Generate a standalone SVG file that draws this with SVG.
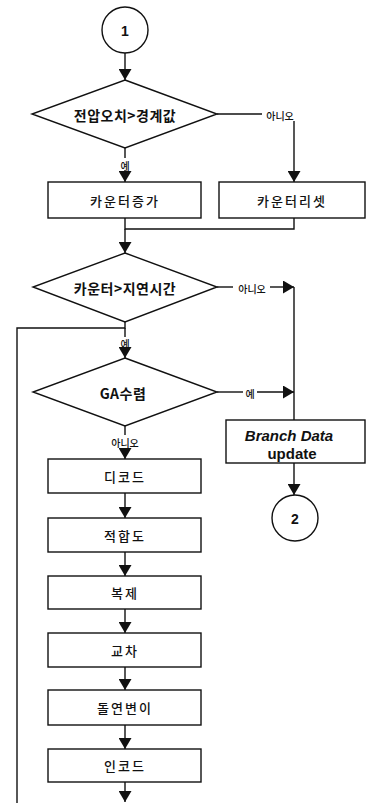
<svg xmlns="http://www.w3.org/2000/svg" width="367" height="803" viewBox="0 0 367 803">
<style>
.shape{fill:#fff;stroke:#111;stroke-width:1.4}
.ln{fill:none;stroke:#111;stroke-width:1.4}
.kr{font-family:"Noto Sans CJK KR","Liberation Sans",sans-serif;fill:#111;text-anchor:middle;dominant-baseline:central}
.box{font-size:13px;letter-spacing:2px;font-weight:500}
.dia{font-size:14px;font-weight:bold;letter-spacing:0.5px}
.lbl{font-size:10px;font-weight:500}
.en{font-family:"Liberation Sans",Arial,sans-serif;font-weight:bold;fill:#111;text-anchor:middle;dominant-baseline:central}
</style>
<defs>
<marker id="ah" markerUnits="userSpaceOnUse" markerWidth="11" markerHeight="13" viewBox="0 0 11 13" refX="11" refY="6.5" orient="auto">
<path d="M0,0 L11,6.5 L0,13 z" fill="#111"/>
</marker>
</defs>
<rect width="367" height="803" fill="#fff"/>
<g id="connectors">
<line class="ln" x1="125" y1="53" x2="125" y2="80" marker-end="url(#ah)"/>
<line class="ln" x1="217" y1="114" x2="262" y2="114"/>
<line class="ln" x1="294" y1="121" x2="294" y2="182" marker-end="url(#ah)"/>
<line class="ln" x1="125" y1="148" x2="125" y2="158"/>
<line class="ln" x1="125" y1="170" x2="125" y2="182" marker-end="url(#ah)"/>
<polyline class="ln" points="125,218 125,229 294,229 294,218"/>
<line class="ln" x1="125" y1="229" x2="125" y2="253" marker-end="url(#ah)"/>
<line class="ln" x1="217" y1="287" x2="233" y2="287"/>
<line class="ln" x1="270" y1="287" x2="294" y2="287" marker-end="url(#ah)"/>
<line class="ln" x1="294" y1="287" x2="294" y2="420"/>
<polyline class="ln" points="125,322 125,328 17,328 17,803"/>
<line class="ln" x1="125" y1="328" x2="125" y2="337"/>
<line class="ln" x1="125" y1="348" x2="125" y2="358" marker-end="url(#ah)"/>
<line class="ln" x1="217" y1="392" x2="243" y2="392"/>
<line class="ln" x1="257" y1="392" x2="294" y2="392" marker-end="url(#ah)"/>
<line class="ln" x1="125" y1="426" x2="125" y2="435"/>
<line class="ln" x1="125" y1="448" x2="125" y2="459" marker-end="url(#ah)"/>
<line class="ln" x1="294" y1="463" x2="294" y2="495" marker-end="url(#ah)"/>
<line class="ln" x1="125" y1="493" x2="125" y2="518" marker-end="url(#ah)"/>
<line class="ln" x1="125" y1="552" x2="125" y2="576" marker-end="url(#ah)"/>
<line class="ln" x1="125" y1="609" x2="125" y2="633" marker-end="url(#ah)"/>
<line class="ln" x1="125" y1="667" x2="125" y2="690" marker-end="url(#ah)"/>
<line class="ln" x1="125" y1="725" x2="125" y2="749" marker-end="url(#ah)"/>
<line class="ln" x1="125" y1="782" x2="125" y2="802" marker-end="url(#ah)"/>
<text class="kr lbl" x="280" y="115">아니오</text>
<text class="kr lbl" x="125" y="165">예</text>
<text class="kr lbl" x="252" y="288">아니오</text>
<text class="kr lbl" x="125" y="343">예</text>
<text class="kr lbl" x="250" y="393">예</text>
<text class="kr lbl" x="125" y="442">아니오</text>
</g>
<g id="start1">
<circle class="shape" cx="125" cy="30" r="23"/>
<text class="en" x="125" y="31" font-size="14">1</text>
</g>
<g id="dec1">
<polygon class="shape" points="125,80 217,114 125,148 32,114"/>
<text class="kr dia" x="125" y="115">전압오치&gt;경계값</text>
</g>
<g id="inc">
<rect class="shape" x="48" y="182" width="153" height="36"/>
<text class="kr box" x="125" y="200">카운터증가</text>
</g>
<g id="reset">
<rect class="shape" x="219" y="182" width="146" height="36"/>
<text class="kr box" x="292" y="200">카운터리셋</text>
</g>
<g id="dec2">
<polygon class="shape" points="125,253 217,287 125,322 33,287"/>
<text class="kr dia" x="125" y="288">카운터&gt;지연시간</text>
</g>
<g id="dec3">
<polygon class="shape" points="125,358 217,392 125,426 33,392"/>
<text class="kr dia" x="123" y="393" font-size="15">GA수렴</text>
</g>
<g id="branch">
<rect class="shape" x="226" y="420" width="139" height="43"/>
<text class="en" x="289" y="435" font-size="15" font-style="italic">Branch Data</text>
<text class="en" x="292" y="453" font-size="15">update</text>
</g>
<g id="end2">
<circle class="shape" cx="295" cy="518" r="23"/>
<text class="en" x="295" y="519" font-size="14">2</text>
</g>
<g id="decode">
<rect class="shape" x="48" y="459" width="153" height="34"/>
<text class="kr box" x="125" y="476">디코드</text>
</g>
<g id="fitness">
<rect class="shape" x="48" y="518" width="153" height="34"/>
<text class="kr box" x="125" y="535">적합도</text>
</g>
<g id="replicate">
<rect class="shape" x="48" y="576" width="153" height="33"/>
<text class="kr box" x="125" y="592">복제</text>
</g>
<g id="crossover">
<rect class="shape" x="48" y="633" width="153" height="34"/>
<text class="kr box" x="125" y="650">교차</text>
</g>
<g id="mutation">
<rect class="shape" x="48" y="690" width="153" height="35"/>
<text class="kr box" x="125" y="707">돌연변이</text>
</g>
<g id="encode">
<rect class="shape" x="48" y="749" width="153" height="33"/>
<text class="kr box" x="125" y="765">인코드</text>
</g>
</svg>
